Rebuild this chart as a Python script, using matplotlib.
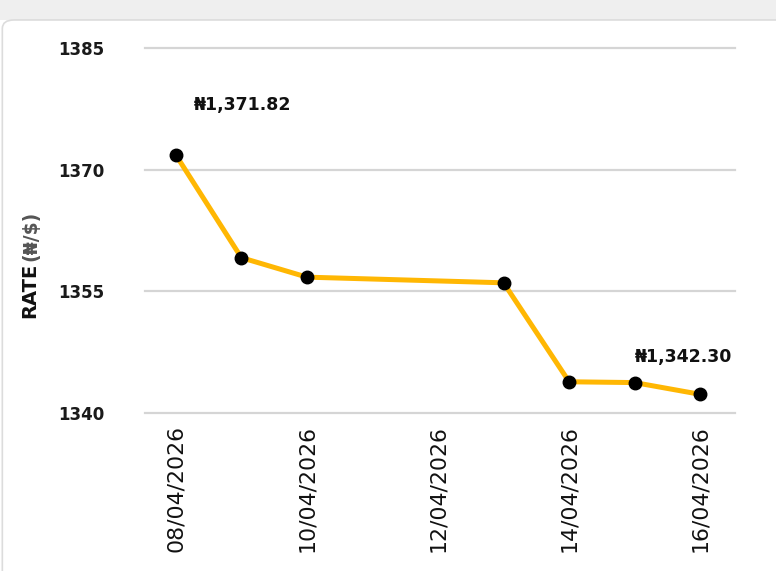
import matplotlib
matplotlib.use("Agg")
import matplotlib.pyplot as plt
from matplotlib.patches import FancyBboxPatch, Rectangle

days = [8, 9, 10, 13, 14, 15, 16]
rates = [1371.82, 1359.15, 1356.75, 1356.05, 1343.85, 1343.75, 1342.30]
tick_days = [8, 10, 12, 14, 16]
tick_labels = ["08/04/2026", "10/04/2026", "12/04/2026", "14/04/2026", "16/04/2026"]
y_ticks = [1340, 1355, 1370, 1385]
annot_idx = [0, 6]
annot_text = ["₦1,371.82", "₦1,342.30"]
ylabel_main = "RATE"
ylabel_unit = "(₦/$)"

plt.rcParams['font.family'] = ['DejaVu Sans']
W, H = 776, 571
fig = plt.figure(figsize=(W / 100, H / 100), dpi=100)
fig.patch.set_facecolor("white")

# card background
fig.patches.append(Rectangle((0, 0.965), 1, 0.035, transform=fig.transFigure,
                             facecolor="#efefef", edgecolor="none", zorder=-2))
fig.patches.append(FancyBboxPatch((0.003, -0.05), 1.05, 1.015, boxstyle="round,pad=0,rounding_size=0.015",
                                  transform=fig.transFigure, facecolor="white",
                                  edgecolor="#dcdcdc", linewidth=1.2, zorder=-1))

ax = fig.add_axes([145 / W, 1 - 413 / H, 590 / W, 365 / H])
ax.set_zorder(5)
ax.set_facecolor("none")
ax.plot(days, rates, color="#FFB703", linewidth=3.6, zorder=3, solid_joinstyle="round")
ax.plot(days, rates, linestyle="none", marker="o", markersize=9,
        markerfacecolor="black", markeredgecolor="black", zorder=4)

ax.set_xlim(7.53, 16.53)
ax.set_ylim(1340, 1385)
ax.set_yticks(y_ticks)
ax.set_yticklabels([str(v) for v in y_ticks], fontsize=12, fontweight="bold", color="#1a1a1a")
ax.set_xticks(tick_days)
ax.set_xticklabels(tick_labels, rotation=90, fontsize=15.8, color="#111111")
ax.tick_params(axis="both", length=0)
ax.tick_params(axis="y", pad=29)
ax.tick_params(axis="x", pad=9)
ax.grid(axis="y", color="#d5d5d5", linewidth=1.6)
for g in ax.get_ygridlines():
    g.set_clip_on(False)
ax.set_axisbelow(True)
for s in ax.spines.values():
    s.set_visible(False)

# y-axis label in two parts
fig.text(30 / W, 1 - 318 / H, ylabel_main, rotation=90, ha="center", va="bottom",
         fontsize=14, fontweight="bold", color="#111111")
fig.text(31 / W, 1 - 261 / H, ylabel_unit, rotation=90, ha="center", va="bottom",
         fontsize=13.5, fontweight="bold", color="#555555")

offsets = [(48, 36), (-12, 27)]
for i, txt, off in zip(annot_idx, annot_text, offsets):
    ax.annotate(txt, (days[i], rates[i]), xytext=off, textcoords="offset points",
                ha="center", va="center", fontsize=12.5, fontweight="bold", color="#111111")

fig.savefig("out.png", dpi=100)
